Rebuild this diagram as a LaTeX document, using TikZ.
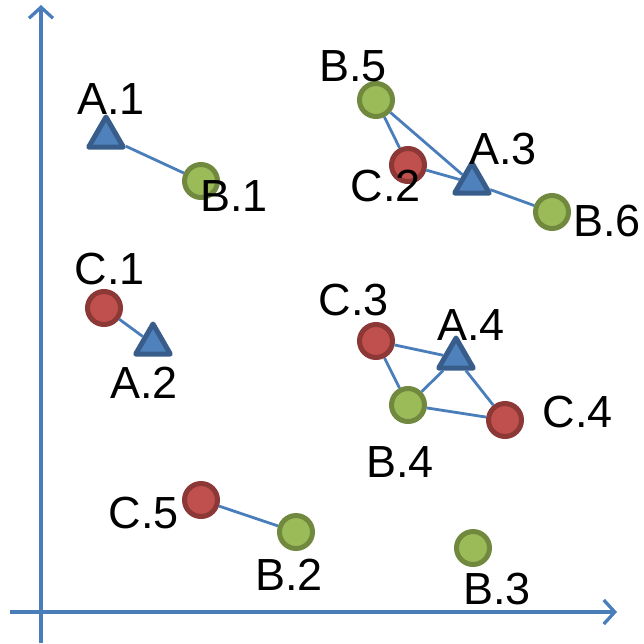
\documentclass[tikz,border=0pt]{standalone}
\usepackage{fontspec}
\setmainfont{Liberation Sans}
\usetikzlibrary{shapes.geometric,arrows.meta}
\definecolor{axisblue}{HTML}{4A7EBB}
\definecolor{triblue}{HTML}{4F81BD}
\definecolor{triedge}{HTML}{385D8A}
\definecolor{ptgreen}{HTML}{9BBB59}
\definecolor{ptgreenedge}{HTML}{71893F}
\definecolor{ptred}{HTML}{C0504D}
\definecolor{ptrededge}{HTML}{8C3836}
\tikzset{
  apoint/.style={regular polygon,regular polygon sides=3,minimum size=40,inner sep=0pt,
    fill=triblue,draw=triedge,line width=5pt,line join=round},
  bpoint/.style={circle,minimum size=33,inner sep=0pt,fill=ptgreen,draw=ptgreenedge,line width=5pt},
  cpoint/.style={circle,minimum size=33,inner sep=0pt,fill=ptred,draw=ptrededge,line width=5pt},
  lbl/.style={font=\fontsize{45}{50}\selectfont,inner sep=0pt},
  link/.style={draw=axisblue,line width=2.8pt}
}
\begin{document}
\begin{tikzpicture}[x=1pt,y=-1pt]
\useasboundingbox (0,0) rectangle (644,643);
\coordinate (O1) at (41,643);
\coordinate (O2) at (10,612);
\coordinate (Ytip) at (41,5);
\coordinate (Xtip) at (617,612);
\draw[axisblue,line width=3.3pt,-{Straight Barb[length=11pt,width=24pt,line width=3.3pt]}] (O1) -- (Ytip);
\draw[axisblue,line width=3.3pt,-{Straight Barb[length=11pt,width=24pt,line width=3.3pt]}] (O2) -- (Xtip);
% points
\node[apoint] (A1) at (106,137) {};
\node[apoint] (A2) at (153,344) {};
\node[apoint] (A3) at (472,183) {};
\node[apoint] (A4) at (456,358) {};
\node[bpoint] (B1) at (201,181) {};
\node[bpoint] (B2) at (296,532) {};
\node[bpoint] (B3) at (473,548) {};
\node[bpoint] (B4) at (408,405) {};
\node[bpoint] (B5) at (376,100) {};
\node[bpoint] (B6) at (552,212) {};
\node[cpoint] (C1) at (104,308) {};
\node[cpoint] (C2) at (408,165) {};
\node[cpoint] (C3) at (376,341) {};
\node[cpoint] (C4) at (505,420) {};
\node[cpoint] (C5) at (201,500) {};
% links
\path[link] (A1) -- (B1);
\path[link] (C1) -- (A2);
\path[link] (B5) -- (C2);
\path[link] (B5) -- (A3);
\path[link] (C2) -- (A3);
\path[link] (A3) -- (B6);
\path[link] (C3) -- (A4);
\path[link] (C3) -- (B4);
\path[link] (B4) -- (A4);
\path[link] (B4) -- (C4);
\path[link] (A4) -- (C4);
\path[link] (C5) -- (B2);
% labels
\node[lbl] (lA1) at (111,99) {A.1};
\node[lbl] (lB1) at (234,196) {B.1};
\node[lbl] (lC1) at (110,269) {C.1};
\node[lbl] (lA2) at (144,383) {A.2};
\node[lbl] (lB5) at (353,66) {B.5};
\node[lbl] (lC2) at (386,186) {C.2};
\node[lbl] (lA3) at (503,149) {A.3};
\node[lbl] (lB6) at (607,221) {B.6};
\node[lbl] (lC3) at (354,300) {C.3};
\node[lbl] (lA4) at (471,325) {A.4};
\node[lbl] (lB4) at (400,462) {B.4};
\node[lbl] (lC4) at (578,412) {C.4};
\node[lbl] (lC5) at (144,513) {C.5};
\node[lbl] (lB2) at (289,575) {B.2};
\node[lbl] (lB3) at (497,589) {B.3};
\end{tikzpicture}
\end{document}
